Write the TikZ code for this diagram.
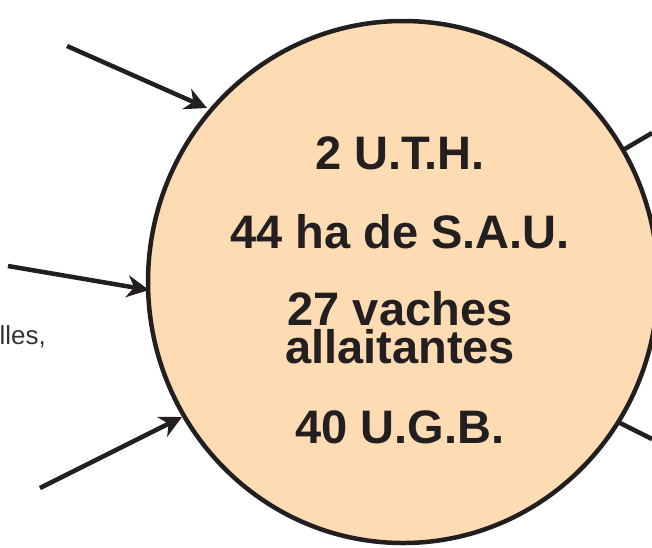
\documentclass[tikz,border=0pt]{standalone}
\usepackage{fontspec}
\setmainfont{Liberation Sans}
\usetikzlibrary{arrows.meta,shapes.geometric}
\definecolor{ink}{HTML}{231F20}
\definecolor{peach}{HTML}{FDDBB3}
\definecolor{grayink}{HTML}{333333}
\tikzset{
  big/.style={font=\fontsize{47}{38}\selectfont\bfseries, text=ink, anchor=base, inner sep=0pt, align=center},
  arr/.style={draw=ink, line width=4.5pt, -{Stealth[length=22pt, width=22pt, inset=7pt]}},
  plain/.style={draw=ink, line width=4.5pt}
}
\begin{document}
\begin{tikzpicture}[x=1pt,y=-1pt]
\useasboundingbox (0,0) rectangle (652,547);
\node[ellipse, draw=ink, fill=peach, line width=4.5pt, minimum width=510pt, minimum height=522pt, inner sep=0pt] (farm) at (403,282) {};
\node[big] (uth) at (400,169) {2 U.T.H.};
\node[big] (sau) at (400,248) {44 ha de S.A.U.};
\node[big] (vaches) at (400,363) {27 vaches\\allaitantes};
\node[big] (ugb) at (400,443) {40 U.G.B.};
\node[font=\fontsize{26}{26}\selectfont, text=grayink, anchor=base east, inner sep=0pt] (les) at (46,344) {lles,};
\coordinate (a1s) at (67,46);
\coordinate (a1e) at (207,108);
\coordinate (a2s) at (8,266);
\coordinate (a2e) at (149,290);
\coordinate (a3s) at (40,488);
\coordinate (a3e) at (182,417);
\coordinate (r1s) at (623,150);
\coordinate (r1e) at (652,133);
\coordinate (r2s) at (620,423);
\coordinate (r2e) at (652,439);
\draw[arr] (a1s) -- (a1e);
\draw[arr] (a2s) -- (a2e);
\draw[arr] (a3s) -- (a3e);
\draw[plain] (r1s) -- (r1e);
\draw[plain] (r2s) -- (r2e);
\end{tikzpicture}
\end{document}
